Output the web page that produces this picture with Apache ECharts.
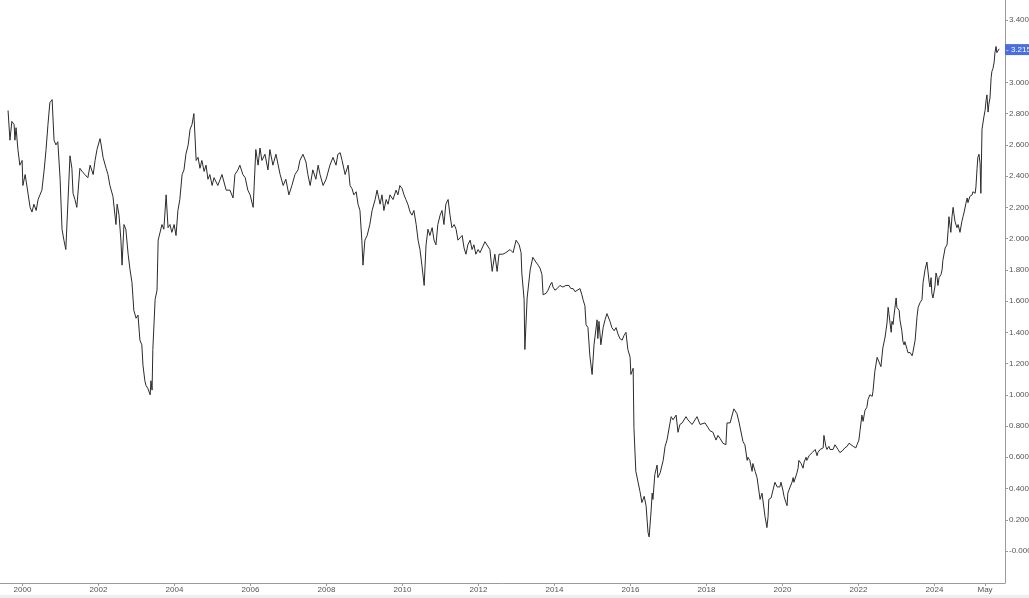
<!DOCTYPE html>
<html>
<head>
<meta charset="utf-8">
<script src="https://cdn.jsdelivr.net/npm/echarts@6/dist/echarts.min.js"></script>
<style>
html,body{margin:0;padding:0;background:#fff;}
#chart{width:1029px;height:598px;}
</style>
</head>
<body>
<div id="chart"></div>
<script>
// decimal-year dates of the traced points
const years = [
1999.62,1999.67,1999.72,1999.78,1999.80,1999.83,1999.88,1999.93,1999.99,2000.01,2000.07,2000.12,2000.14,2000.20,2000.25,2000.30,2000.36,2000.41,2000.46,2000.51,2000.57,2000.62,2000.67,2000.72,2000.78,2000.83,2000.88,2000.93,2000.99,2001.04,2001.09,2001.14,2001.17,2001.25,2001.30,2001.33,2001.38,2001.43,2001.51,2001.57,2001.64,2001.72,2001.78,2001.86,2001.91,2001.96,2002.04,2002.07,2002.12,2002.20,2002.25,2002.30,2002.38,2002.46,2002.49,2002.54,2002.59,2002.62,2002.67,2002.72,2002.78,2002.83,2002.88,2002.93,2002.99,2003.04,2003.09,2003.14,2003.17,2003.22,2003.25,2003.30,2003.36,2003.38,2003.41,2003.43,2003.49,2003.54,2003.57,2003.62,2003.67,2003.72,2003.78,2003.83,2003.88,2003.93,2003.99,2004.04,2004.09,2004.14,2004.20,2004.25,2004.30,2004.36,2004.41,2004.46,2004.51,2004.57,2004.62,2004.67,2004.72,2004.78,2004.83,2004.88,2004.93,2004.99,2005.04,
2005.14,2005.25,2005.36,2005.46,2005.54,2005.59,2005.67,2005.72,2005.80,2005.86,2005.93,2005.99,2006.07,2006.14,2006.20,2006.25,2006.30,2006.38,2006.46,2006.51,2006.59,2006.67,2006.78,2006.86,2006.93,2007.01,2007.09,2007.17,2007.25,2007.30,2007.38,2007.46,2007.51,2007.57,2007.64,2007.72,2007.78,2007.83,2007.91,2007.99,2008.09,2008.17,2008.25,2008.30,2008.36,2008.41,2008.49,2008.57,2008.62,2008.67,2008.72,2008.78,2008.83,2008.88,2008.93,2008.96,2009.01,2009.07,2009.14,2009.20,2009.28,2009.33,2009.41,2009.46,2009.51,2009.57,2009.62,2009.67,2009.75,2009.83,2009.88,2009.93,2009.99,
2010.04,2010.09,2010.14,2010.20,2010.25,2010.30,2010.36,2010.41,2010.46,2010.51,2010.57,2010.62,2010.67,2010.72,2010.78,2010.83,2010.88,2010.93,2010.99,2011.04,2011.09,2011.14,2011.20,2011.25,2011.30,2011.36,2011.41,2011.46,2011.51,2011.57,2011.62,2011.67,2011.72,2011.78,2011.83,2011.88,2011.93,2011.99,
2012.04,2012.17,2012.30,2012.36,2012.43,2012.49,2012.54,2012.64,2012.72,2012.83,2012.91,2012.96,2012.99,2013.07,2013.12,2013.14,2013.20,2013.22,2013.28,2013.36,2013.43,2013.51,2013.57,2013.62,2013.67,2013.70,2013.78,2013.83,2013.88,2013.93,2013.96,2014.01,2014.07,2014.14,2014.22,2014.30,2014.38,2014.43,2014.49,2014.54,2014.59,2014.67,2014.72,2014.75,2014.80,2014.83,2014.88,2014.93,2014.99,
2015.04,2015.12,2015.14,2015.17,2015.22,2015.28,2015.33,2015.38,2015.46,2015.51,2015.57,2015.62,2015.67,2015.72,2015.78,2015.83,2015.88,2015.93,2015.99,2016.01,2016.07,2016.09,2016.14,2016.20,2016.25,2016.30,2016.36,2016.41,2016.46,2016.49,2016.54,2016.57,2016.59,2016.64,2016.70,2016.72,2016.78,2016.86,2016.91,2016.96,
2017.04,2017.07,2017.09,2017.12,2017.20,2017.25,2017.30,2017.36,2017.46,2017.51,2017.62,2017.75,2017.83,2017.96,2018.04,2018.09,2018.17,2018.25,2018.30,2018.36,2018.43,2018.51,2018.54,2018.62,2018.67,2018.72,2018.80,2018.86,2018.96,
2019.01,2019.07,2019.09,2019.14,2019.20,2019.22,2019.28,2019.33,2019.41,2019.46,2019.49,2019.54,2019.57,2019.59,2019.62,2019.64,2019.70,2019.72,2019.75,2019.80,2019.86,2019.88,2019.93,2019.96,
2020.01,2020.04,2020.09,2020.12,2020.14,2020.20,2020.25,2020.28,2020.30,2020.33,2020.38,2020.41,2020.43,2020.49,2020.54,2020.57,2020.62,2020.64,2020.70,2020.78,2020.80,2020.86,2020.91,2020.93,2020.99,
2021.07,2021.09,2021.14,2021.17,2021.22,2021.25,2021.30,2021.33,2021.38,2021.43,2021.46,2021.51,2021.57,2021.59,2021.64,2021.70,2021.72,2021.75,2021.80,2021.86,2021.88,2021.93,2021.96,
2022.01,2022.04,2022.09,2022.12,2022.17,2022.22,2022.25,2022.30,2022.36,2022.38,2022.43,2022.49,2022.54,2022.59,2022.64,2022.67,2022.70,2022.75,2022.78,2022.80,2022.83,2022.86,2022.88,2022.91,2022.93,2022.99,
2023.01,2023.07,2023.09,2023.14,2023.17,2023.20,2023.22,2023.28,2023.30,2023.36,2023.41,2023.43,2023.49,2023.54,2023.57,2023.62,2023.67,2023.70,2023.75,2023.80,2023.83,2023.86,2023.88,2023.91,2023.93,2023.96,
2024.01,2024.04,2024.07,2024.09,2024.12,2024.17,2024.20,2024.22,2024.28,2024.33,2024.36,2024.38,2024.43,2024.46,2024.49,2024.51,2024.54,2024.59,2024.62,2024.67,2024.72,2024.75,2024.78,2024.83,2024.86,2024.88,2024.93,2024.99,
2025.01,2025.07,2025.09,2025.12,2025.14,2025.17,2025.20,2025.22,2025.25,2025.28,2025.30,2025.33,2025.36,2025.38,2025.41,2025.43,2025.46,2025.49,2025.51,2025.54,2025.57,2025.59,2025.62,2025.64,2025.67,2025.70
];
// yield values (%)
const yields = [
2.82,2.63,2.75,2.73,2.63,2.71,2.57,2.47,2.50,2.34,2.41,2.33,2.34,2.20,2.17,2.22,2.18,2.25,2.28,2.31,2.44,2.57,2.73,2.87,2.89,2.63,2.60,2.62,2.38,2.06,1.99,1.93,1.94,2.53,2.45,2.29,2.25,2.20,2.45,2.43,2.41,2.39,2.47,2.41,2.50,2.57,2.64,2.60,2.52,2.45,2.41,2.34,2.27,2.09,2.22,2.15,1.99,1.83,2.09,2.06,1.90,1.80,1.72,1.54,1.49,1.51,1.35,1.32,1.19,1.09,1.06,1.04,1.00,1.09,1.03,1.29,1.61,1.67,1.99,2.00,2.09,2.06,2.28,2.07,2.09,2.04,2.09,2.02,2.18,2.25,2.41,2.44,2.54,2.60,2.70,2.73,2.80,2.50,2.52,2.45,2.50,2.43,2.47,2.38,2.41,2.34,2.39,
2.34,2.41,2.31,2.31,2.26,2.41,2.44,2.47,2.41,2.39,2.31,2.28,2.20,2.57,2.47,2.58,2.50,2.54,2.44,2.57,2.47,2.54,2.41,2.34,2.38,2.28,2.34,2.41,2.44,2.50,2.54,2.49,2.41,2.34,2.44,2.38,2.47,2.41,2.34,2.38,2.47,2.52,2.47,2.54,2.55,2.50,2.41,2.47,2.34,2.32,2.28,2.30,2.22,2.18,1.99,1.83,1.99,2.02,2.09,2.18,2.25,2.31,2.22,2.28,2.18,2.25,2.22,2.28,2.25,2.31,2.28,2.34,2.32,
2.28,2.25,2.22,2.17,2.15,2.18,2.09,1.99,1.93,1.83,1.70,1.96,2.06,2.02,2.07,1.99,1.96,2.09,2.15,2.18,2.09,2.22,2.25,2.15,2.07,2.09,2.06,1.99,2.00,2.02,1.94,1.90,1.96,1.99,1.93,1.96,1.90,1.93,
1.91,1.98,1.93,1.79,1.90,1.79,1.90,1.90,1.91,1.93,1.91,1.96,1.99,1.96,1.91,1.78,1.61,1.29,1.62,1.80,1.88,1.85,1.83,1.81,1.77,1.64,1.65,1.67,1.70,1.72,1.69,1.67,1.68,1.70,1.69,1.70,1.70,1.68,1.68,1.66,1.66,1.68,1.64,1.61,1.57,1.45,1.43,1.25,1.13,
1.32,1.48,1.36,1.47,1.32,1.43,1.48,1.52,1.47,1.43,1.41,1.43,1.39,1.36,1.35,1.38,1.40,1.29,1.24,1.13,1.17,0.79,0.51,0.44,0.38,0.31,0.35,0.29,0.12,0.09,0.25,0.37,0.33,0.49,0.55,0.47,0.50,0.58,0.67,0.71,
0.82,0.86,0.87,0.84,0.87,0.76,0.81,0.82,0.86,0.84,0.81,0.86,0.81,0.82,0.79,0.77,0.76,0.71,0.74,0.72,0.69,0.68,0.82,0.82,0.83,0.91,0.88,0.82,0.70,
0.68,0.58,0.60,0.58,0.51,0.56,0.51,0.47,0.33,0.37,0.36,0.22,0.21,0.15,0.22,0.33,0.34,0.35,0.39,0.44,0.41,0.42,0.41,0.44,
0.39,0.35,0.31,0.29,0.37,0.41,0.44,0.47,0.44,0.44,0.50,0.53,0.58,0.56,0.53,0.57,0.60,0.58,0.61,0.63,0.63,0.65,0.61,0.63,0.65,
0.66,0.74,0.67,0.65,0.67,0.65,0.66,0.65,0.68,0.67,0.65,0.63,0.64,0.65,0.66,0.67,0.68,0.69,0.68,0.67,0.67,0.66,0.68,
0.71,0.77,0.87,0.83,0.90,0.92,0.97,1.00,0.99,1.02,1.15,1.24,1.21,1.18,1.30,1.31,1.37,1.46,1.56,1.52,1.46,1.40,1.47,1.45,1.50,1.62,
1.56,1.54,1.48,1.41,1.34,1.32,1.34,1.29,1.27,1.27,1.25,1.27,1.35,1.50,1.56,1.59,1.61,1.72,1.80,1.85,1.84,1.72,1.69,1.75,1.65,1.62,
1.69,1.78,1.75,1.70,1.75,1.77,1.80,1.86,1.94,1.96,2.06,2.14,2.04,2.14,2.20,2.16,2.11,2.07,2.09,2.04,2.11,2.14,2.17,2.23,2.26,2.23,2.27,2.28,
2.30,2.29,2.33,2.45,2.52,2.54,2.48,2.29,2.70,2.71,2.78,2.82,2.89,2.92,2.81,2.86,2.90,3.03,3.07,3.09,3.13,3.19,3.23,3.19,3.18,3.215
];
const xTickValues = [2000,2002,2004,2006,2008,2010,2012,2014,2016,2018,2020,2022,2024,2025.33];
const xTickLabels = ['2000','2002','2004','2006','2008','2010','2012','2014','2016','2018','2020','2022','2024','May'];
const yTickValues = [0,0.2,0.4,0.6,0.8,1.0,1.2,1.4,1.6,1.8,2.0,2.2,2.4,2.6,2.8,3.0,3.2,3.4];
const lastValue = 3.215;

const seriesData = years.map((y, i) => [y, yields[i]]);

const chart = echarts.init(document.getElementById('chart'), null, {renderer: 'canvas'});
chart.setOption({
  animation: false,
  backgroundColor: '#ffffff',
  grid: {left: 0, right: 24, top: 0, bottom: 15, containLabel: false, outerBoundsMode: 'none'},
  xAxis: {
    type: 'value',
    min: 1999.408,
    max: 2025.855,
    splitLine: {show: false},
    axisLine: {show: true, onZero: false, lineStyle: {color: '#9a9a9a', width: 1}},
    axisTick: {show: true, customValues: xTickValues, length: 3, lineStyle: {color: '#9a9a9a'}},
    axisLabel: {
      customValues: xTickValues,
      margin: 3,
      fontSize: 8,
      fontFamily: 'Liberation Sans, Arial, sans-serif',
      color: '#555',
      formatter: function (v) {
        const idx = xTickValues.findIndex(t => Math.abs(t - v) < 1e-6);
        return idx >= 0 ? xTickLabels[idx] : '';
      }
    }
  },
  yAxis: {
    type: 'value',
    position: 'right',
    min: -0.2049,
    max: 3.5275,
    splitLine: {show: false},
    axisLine: {show: true, onZero: false, lineStyle: {color: '#9a9a9a', width: 1}},
    axisTick: {show: true, customValues: yTickValues, length: 3, inside: false, lineStyle: {color: '#9a9a9a'}},
    axisLabel: {
      customValues: yTickValues,
      margin: 4,
      fontSize: 8,
      fontFamily: 'Liberation Sans, Arial, sans-serif',
      color: '#555',
      formatter: function (v) {
        if (Math.abs(v) < 1e-9) return '-0.000';
        return v.toFixed(3);
      }
    }
  },
  series: [{
    type: 'line',
    data: seriesData,
    showSymbol: false,
    symbol: 'none',
    clip: false,
    lineStyle: {color: '#2b2b2b', width: 1},
    markLine: {
      silent: true,
      symbol: 'none',
      lineStyle: {color: 'rgba(0,0,0,0)', width: 1, type: 'solid'},
      data: [{yAxis: lastValue}],
      label: {
        show: true,
        position: 'end',
        distance: 0,
        formatter: function () { return '- ' + lastValue.toFixed(3); },
        backgroundColor: '#4a6ee0',
        color: '#ffffff',
        fontSize: 8,
        fontFamily: 'Liberation Sans, Arial, sans-serif',
        padding: [2, 2, 1, 1]
      }
    }
  }],
  graphic: [{
    type: 'rect',
    left: 0,
    top: 595,
    shape: {width: 1029, height: 3},
    style: {fill: '#eeeeee'},
    silent: true,
    z: -1
  }]
});
</script>
</body>
</html>
